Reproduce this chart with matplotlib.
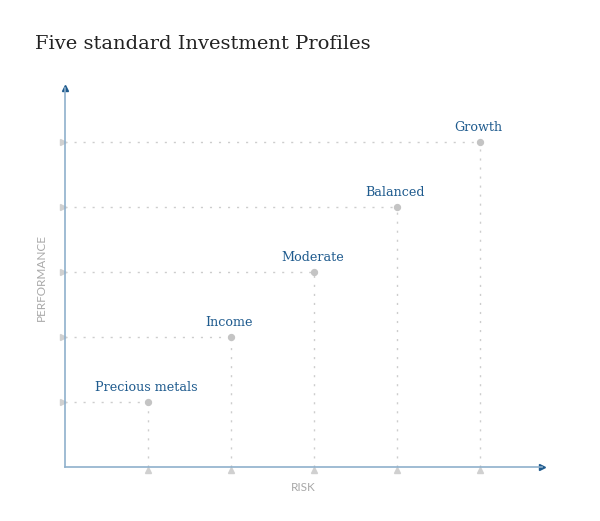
import matplotlib.pyplot as plt

# Profile data
profiles = ["Precious metals", "Income", "Moderate", "Balanced", "Growth"]
risk = [1, 2, 3, 4, 5]
performance = [1, 2, 3, 4, 5]

xmax = 5.75
ymax = 5.83
grey = "#c4c4c4"
blue_txt = "#1f5b8e"

fig = plt.figure(figsize=(6, 5.21), dpi=100)
ax = fig.add_axes([65/600, 54/521, 477/600, 379/521])
ax.set_xlim(0, xmax)
ax.set_ylim(0, ymax)

for s in ["top", "right"]:
    ax.spines[s].set_visible(False)
for s in ["left", "bottom"]:
    ax.spines[s].set_color("#8fb0cc")
    ax.spines[s].set_linewidth(1.2)
ax.set_xticks([])
ax.set_yticks([])

# arrow heads
ax.plot([xmax], [0], marker=">", color="#1f5b8e", ms=4, clip_on=False)
ax.plot([0], [ymax], marker="^", color="#1f5b8e", ms=4, clip_on=False)

# guide lines
for x, y in zip(risk, performance):
    ax.plot([0, x], [y, y], ls=(0, (1.5, 5)), color="#cdcdcd", lw=1)
    ax.plot([x, x], [0, y], ls=(0, (1.5, 5)), color="#cdcdcd", lw=1)

# tick markers
ax.plot([-0.03] * len(performance), performance, ls="none", marker=">",
        color="#d0d0d0", ms=5, clip_on=False)
ax.plot(risk, [-0.045] * len(risk), ls="none", marker="^",
        color="#d0d0d0", ms=5, clip_on=False)

ax.scatter(risk, performance, s=18, color=grey, zorder=3)

for name, x, y in zip(profiles, risk, performance):
    ax.annotate(name, (x, y), xytext=(-1, 6), textcoords="offset points",
                ha="center", va="bottom", fontsize=9.2, color=blue_txt,
                family="DejaVu Serif")

ax.set_xlabel("RISK", fontsize=8.5, color="#a8a8a8", family="Lato", labelpad=11)
ax.set_ylabel("PERFORMANCE", fontsize=8.5, color="#a8a8a8", family="Lato", labelpad=13)

fig.text(35/600, 1 - 44/521, "Five standard Investment Profiles", fontsize=14,
         family="DejaVu Serif", color="#222222", va="center", ha="left")

fig.savefig("out.png", dpi=100)
